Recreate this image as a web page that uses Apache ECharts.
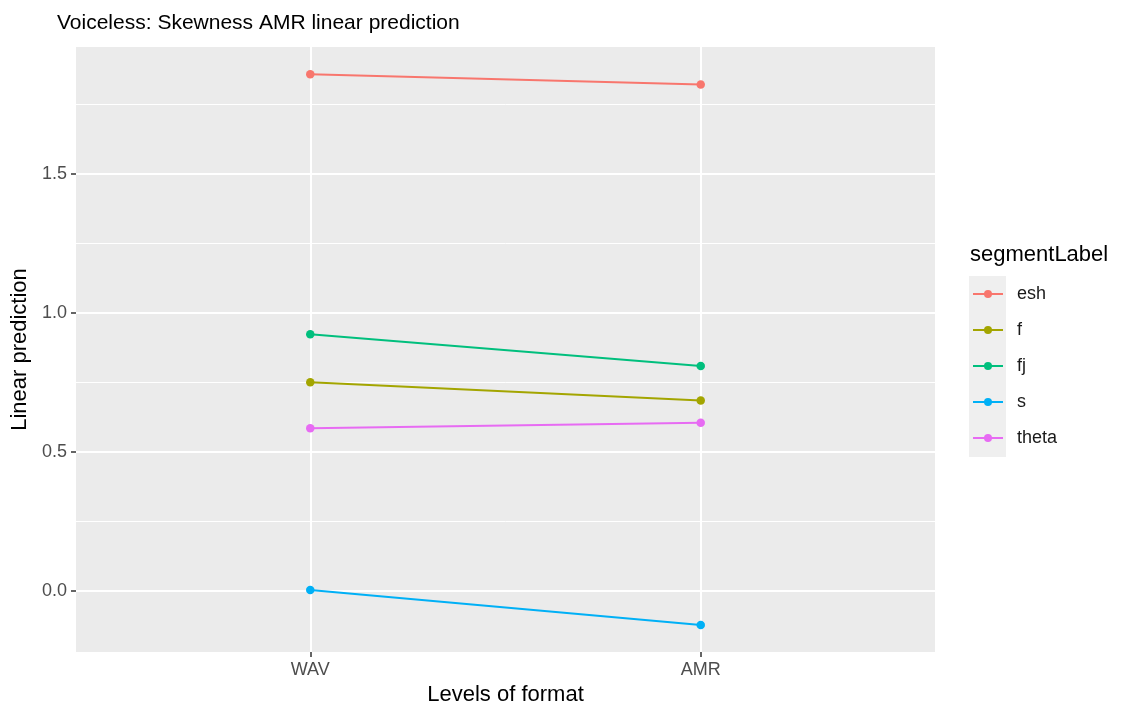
<!DOCTYPE html>
<html>
<head>
<meta charset="utf-8">
<title>Voiceless: Skewness AMR linear prediction</title>
<script src="https://cdn.jsdelivr.net/npm/echarts@6/dist/echarts.min.js"></script>
<style>
  html, body { margin: 0; padding: 0; background: #ffffff; }
  #chart { width: 1123px; height: 713px; }
</style>
</head>
<body>
<div id="chart"></div>
<script>
// Levels of the format factor (x axis)
const formats = ['WAV', 'AMR'];
// Segment labels (one line per segment)
const segments = ['esh', 'f', 'fj', 's', 'theta'];
// Linear prediction of skewness per segment, in the order of `formats`
const eshValues = [1.857, 1.820];
const fValues = [0.750, 0.684];
const fjValues = [0.922, 0.808];
const sValues = [0.003, -0.123];
const thetaValues = [0.584, 0.604];
// Y axis tick labels
const yTicks = [0.0, 0.5, 1.0, 1.5];
const yMinorTicks = [0.25, 0.75, 1.25, 1.75];

const seriesValues = [eshValues, fValues, fjValues, sValues, thetaValues];
const palette = ['#F8766D', '#A3A500', '#00BF7D', '#00B0F6', '#E76BF3'];
const FONT = '"Liberation Sans", Arial, sans-serif';

const chart = echarts.init(document.getElementById('chart'), null, { renderer: 'canvas' });

const series = segments.map((name, i) => ({
  name: name,
  type: 'line',
  xAxisIndex: 0,
  yAxisIndex: 0,
  data: seriesValues[i].map((v, j) => [j + 1, v]),
  symbol: 'circle',
  symbolSize: 8.5,
  lineStyle: { width: 2, color: palette[i] },
  itemStyle: { color: palette[i] },
  emphasis: { disabled: true },
  animation: false,
  z: 5
}));

const option = {
  backgroundColor: '#ffffff',
  animation: false,
  title: {
    text: 'Voiceless: Skewness AMR linear prediction',
    left: 52,
    top: 8,
    textStyle: { fontFamily: FONT, fontSize: 21, fontWeight: 'normal', color: '#000000' }
  },
  grid: {
    left: 76, top: 47, right: 188, bottom: 61,
    show: true, backgroundColor: '#EBEBEB', borderWidth: 0
  },
  legend: {
    orient: 'vertical',
    left: 967,
    top: 280,
    itemWidth: 30,
    itemHeight: 10,
    itemGap: 18,
    data: segments,
    textStyle: { fontFamily: FONT, fontSize: 18, color: '#1a1a1a', padding: [0, 0, 0, 9] },
    selectedMode: false
  },
  xAxis: [{
    type: 'value',
    min: 0.4,
    max: 2.6,
    name: 'Levels of format',
    nameLocation: 'middle',
    nameGap: 31,
    nameTextStyle: { fontFamily: FONT, fontSize: 22, color: '#000000' },
    axisLine: { show: false, onZero: false },
    axisTick: { show: true, length: 5, customValues: [1, 2], lineStyle: { color: '#333333', width: 1.5 } },
    axisLabel: {
      customValues: [1, 2],
      margin: 9,
      fontFamily: FONT, fontSize: 18, color: '#4D4D4D',
      formatter: v => formats[Math.round(v) - 1]
    },
    splitLine: { show: true, lineStyle: { color: '#FFFFFF', width: 2 } }
  }],
  yAxis: [{
    type: 'value',
    min: -0.22,
    max: 1.955,
    name: 'Linear prediction',
    nameLocation: 'middle',
    nameGap: 40,
    nameTextStyle: { fontFamily: FONT, fontSize: 22, color: '#000000' },
    axisLine: { show: false, onZero: false },
    axisTick: { show: true, length: 5, customValues: yTicks, lineStyle: { color: '#333333', width: 1.5 } },
    axisLabel: {
      customValues: yTicks,
      margin: 9,
      fontFamily: FONT, fontSize: 18, color: '#4D4D4D',
      formatter: v => v.toFixed(1)
    },
    splitLine: { show: true, lineStyle: { color: '#FFFFFF', width: 2 } },
    z: 2
  }, {
    // minor grid lines between the major breaks
    type: 'value',
    min: -0.22,
    max: 1.955,
    position: 'left',
    axisLine: { show: false, onZero: false },
    axisTick: { show: false, customValues: yMinorTicks },
    axisLabel: { show: false, customValues: yMinorTicks },
    splitLine: { show: true, lineStyle: { color: '#FFFFFF', width: 1 } },
    z: 1
  }],
  graphic: [
    {
      type: 'rect',
      left: 969, top: 276,
      shape: { width: 37, height: 181 },
      style: { fill: '#EFEFEF' },
      z: -1
    },
    {
      type: 'text',
      left: 970, top: 244,
      style: { text: 'segmentLabel', fontFamily: FONT, fontSize: 22, fill: '#000000' }
    }
  ],
  series: series
};

chart.setOption(option);
</script>
</body>
</html>
